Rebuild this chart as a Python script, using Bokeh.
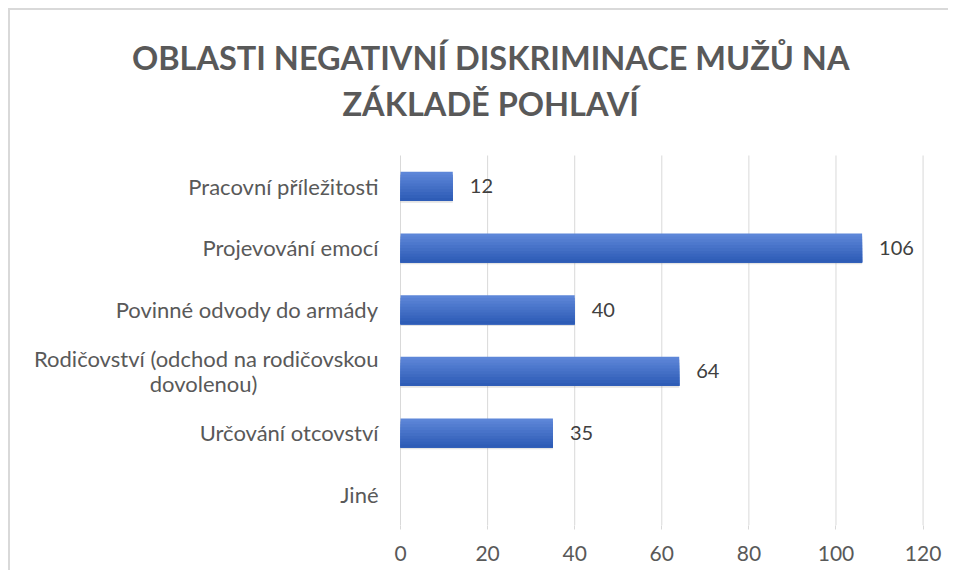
from bokeh.plotting import figure
from bokeh.models import ColumnDataSource, Range1d
from bokeh.embed import file_html
from bokeh.resources import INLINE
from bokeh.core.properties import value

categories = ["Pracovní příležitosti", "Projevování emocí", "Povinné odvody do armády",
              "Rodičovství (odchod na rodičovskou dovolenou)", "Určování otcovství", "Jiné"]
category_lines = [["Pracovní příležitosti"], ["Projevování emocí"], ["Povinné odvody do armády"],
                  ["Rodičovství (odchod na rodičovskou", "dovolenou)"], ["Určování otcovství"], ["Jiné"]]
values = [12, 106, 40, 64, 35, 0]
label_texts = ["12", "106", "40", "64", "35", ""]
x_ticks = [0, 20, 40, 60, 80, 100, 120]
title_lines = ["OBLASTI NEGATIVNÍ DISKRIMINACE MUŽŮ NA", "ZÁKLADĚ POHLAVÍ"]

FONT = "Lato"
TXT = "#595959"
GRID = "#d9d9d9"

ncat = len(categories)
ypos = [ncat - 1 - i + 0.5 for i in range(ncat)]

W, H = 940, 562
p = figure(width=W, height=H, x_range=Range1d(-89.57, 126.3), y_range=Range1d(0, ncat + 2.351),
           output_backend="svg", toolbar_location=None,
           min_border_left=0, min_border_right=0, min_border_top=0, min_border_bottom=47)
p.styles = {"border-top": "2px solid #d9d9d9", "border-left": "2px solid #d9d9d9",
            "margin-left": "8px", "margin-top": "8px"}
p.outline_line_color = None
p.background_fill_color = "white"
p.border_fill_color = "white"
p.yaxis.visible = False
p.xgrid.grid_line_color = None
p.ygrid.grid_line_color = None

# vertical gridlines at the tick values, limited to the category area
p.segment(x0=x_ticks, x1=x_ticks, y0=[0] * len(x_ticks), y1=[ncat] * len(x_ticks),
          line_color=GRID, line_width=1)

src = ColumnDataSource(dict(y=ypos, val=values, lab=label_texts))
bh = 0.47
# soft shadow
p.hbar(y=[y - 0.03 for y in ypos], right=values, left=0, height=bh,
       fill_color="#808080", fill_alpha=0.22, line_color=None)
# vertical gradient, drawn top to bottom with overlapping slices
n = 10
c0 = (0x5d, 0x86, 0xd8)
c1 = (0x2e, 0x5c, 0xb6)
for k in range(n):
    t = k / (n - 1)
    col = "#%02x%02x%02x" % tuple(int(round(a + (b - a) * t)) for a, b in zip(c0, c1))
    top = bh / 2 - k * bh / n
    bottom = -bh / 2
    p.hbar(y=[y + (top + bottom) / 2 for y in ypos], right=values, left=0,
           height=top - bottom, fill_color=col, line_color=None)

p.text(x="val", y="y", text="lab", source=src, x_offset=17, text_baseline="middle",
       text_font=value(FONT), text_font_size="20px", text_color="#404040")

# category labels
single_y, single_t, l1_y, l1_t, l2_y, l2_t = [], [], [], [], [], []
for y, lines in zip(ypos, category_lines):
    if len(lines) == 1:
        single_y.append(y); single_t.append(lines[0])
    else:
        l1_y.append(y); l1_t.append(lines[0])
        l2_y.append(y); l2_t.append(lines[1])
p.text(x=[0] * len(single_y), y=single_y, text=single_t, x_offset=-22, text_align="right",
       text_baseline="middle", text_font=value(FONT), text_font_size="22px", text_color=TXT)
p.text(x=[0] * len(l1_y), y=l1_y, text=l1_t, x_offset=-22, y_offset=-13, text_align="right",
       text_baseline="middle", text_font=value(FONT), text_font_size="22px", text_color=TXT)
p.text(x=[0] * len(l2_y), y=l2_y, text=l2_t, x_offset=-197, y_offset=12, text_align="center",
       text_baseline="middle", text_font=value(FONT), text_font_size="22px", text_color=TXT)

# title
p.text(x=[20.7] * 2, y=[ncat + 1.59, ncat + 0.84], text=title_lines, text_align="center",
       text_baseline="middle", text_font=value("Lato"), text_font_style="bold",
       text_font_size="32.5px", text_color=TXT)

p.xaxis.ticker = x_ticks
p.xaxis.axis_line_color = None
p.xaxis.major_tick_line_color = GRID
p.xaxis.major_tick_out = 4
p.xaxis.major_tick_in = 0
p.xaxis.minor_tick_line_color = None
p.xaxis.major_label_standoff = 16
p.xaxis.major_label_text_font = FONT
p.xaxis.major_label_text_font_size = "21px"
p.xaxis.major_label_text_color = TXT

open("out.html", "w").write(file_html(p, INLINE))
